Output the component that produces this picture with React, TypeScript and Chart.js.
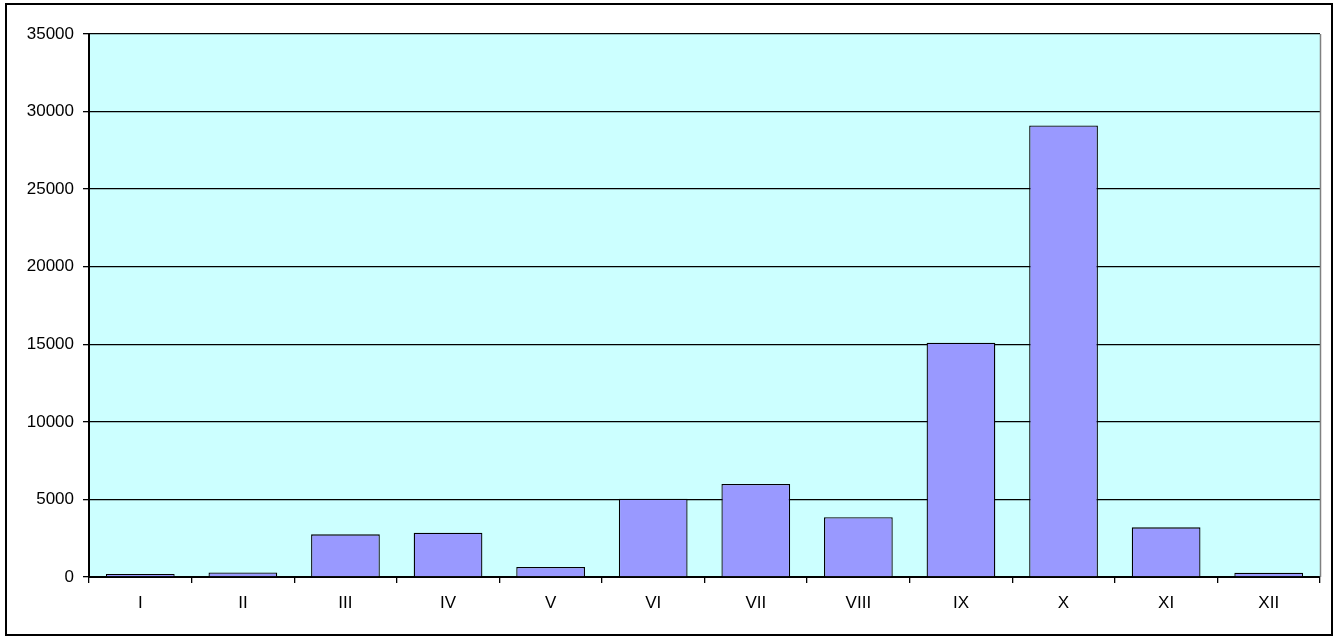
import React, { useEffect, useRef } from "react";
import { Chart, registerables } from "chart.js";

Chart.register(...registerables);

const categories = ["I", "II", "III", "IV", "V", "VI", "VII", "VIII", "IX", "X", "XI", "XII"];
const values = [200, 290, 2750, 2850, 650, 5050, 6000, 3850, 15100, 29100, 3200, 270];
const yTicks = [0, 5000, 10000, 15000, 20000, 25000, 30000, 35000];

const framePlugin = {
  id: "frame",
  beforeDraw(chart: any) {
    const { ctx, chartArea } = chart;
    ctx.save();
    ctx.fillStyle = "#ffffff";
    ctx.fillRect(0, 0, chart.width, chart.height);
    ctx.fillStyle = "#CCFFFF";
    ctx.fillRect(chartArea.left, chartArea.top, chartArea.right - chartArea.left, chartArea.bottom - chartArea.top);
    ctx.restore();
  },
  afterDraw(chart: any) {
    const { ctx, chartArea } = chart;
    ctx.save();
    ctx.strokeStyle = "#808080";
    ctx.lineWidth = 1.5;
    ctx.beginPath();
    ctx.moveTo(chartArea.right + 0.5, chartArea.top);
    ctx.lineTo(chartArea.right + 0.5, chartArea.bottom);
    ctx.stroke();
    ctx.strokeStyle = "#000000";
    ctx.lineWidth = 2;
    ctx.strokeRect(6, 4, 1326, 631);
    ctx.restore();
  },
};

export default function App() {
  const ref = useRef<HTMLCanvasElement>(null);
  useEffect(() => {
    document.body.style.margin = "0";
    const chart = new Chart(ref.current!, {
      type: "bar",
      data: {
        labels: categories,
        datasets: [
          {
            data: values,
            backgroundColor: "#9999FF",
            borderColor: "#000000",
            borderWidth: 1.3,
            categoryPercentage: 1,
            barPercentage: 0.67,
          },
        ],
      },
      options: {
        animation: false,
        responsive: false,
        layout: { padding: { left: 0, top: 34, right: 19, bottom: 0 } },
        plugins: { legend: { display: false }, tooltip: { enabled: false } },
        scales: {
          x: {
            grid: { offset: true, drawOnChartArea: false, color: "#000000", tickLength: 6, lineWidth: 1.3 },
            border: { color: "#000000", width: 2 },
            ticks: { color: "#000000", font: { family: "Liberation Sans", size: 17 }, padding: 10 },
            afterFit: (s: any) => { s.height = 60; },
          },
          y: {
            min: 0,
            max: 35000,
            afterBuildTicks: (s: any) => { s.ticks = yTicks.map((v) => ({ value: v })); },
            grid: { color: "#000000", tickLength: 6, lineWidth: 1.3 },
            border: { color: "#000000", width: 2 },
            ticks: {
              color: "#000000",
              font: { family: "Liberation Sans", size: 17 },
              padding: 9,
              callback: (v: any) => String(v),
            },
            afterFit: (s: any) => { s.width = 89; },
          },
        },
      },
      plugins: [framePlugin],
    });
    return () => chart.destroy();
  }, []);
  return <canvas ref={ref} width={1339} height={637} style={{ display: "block" }} />;
}
